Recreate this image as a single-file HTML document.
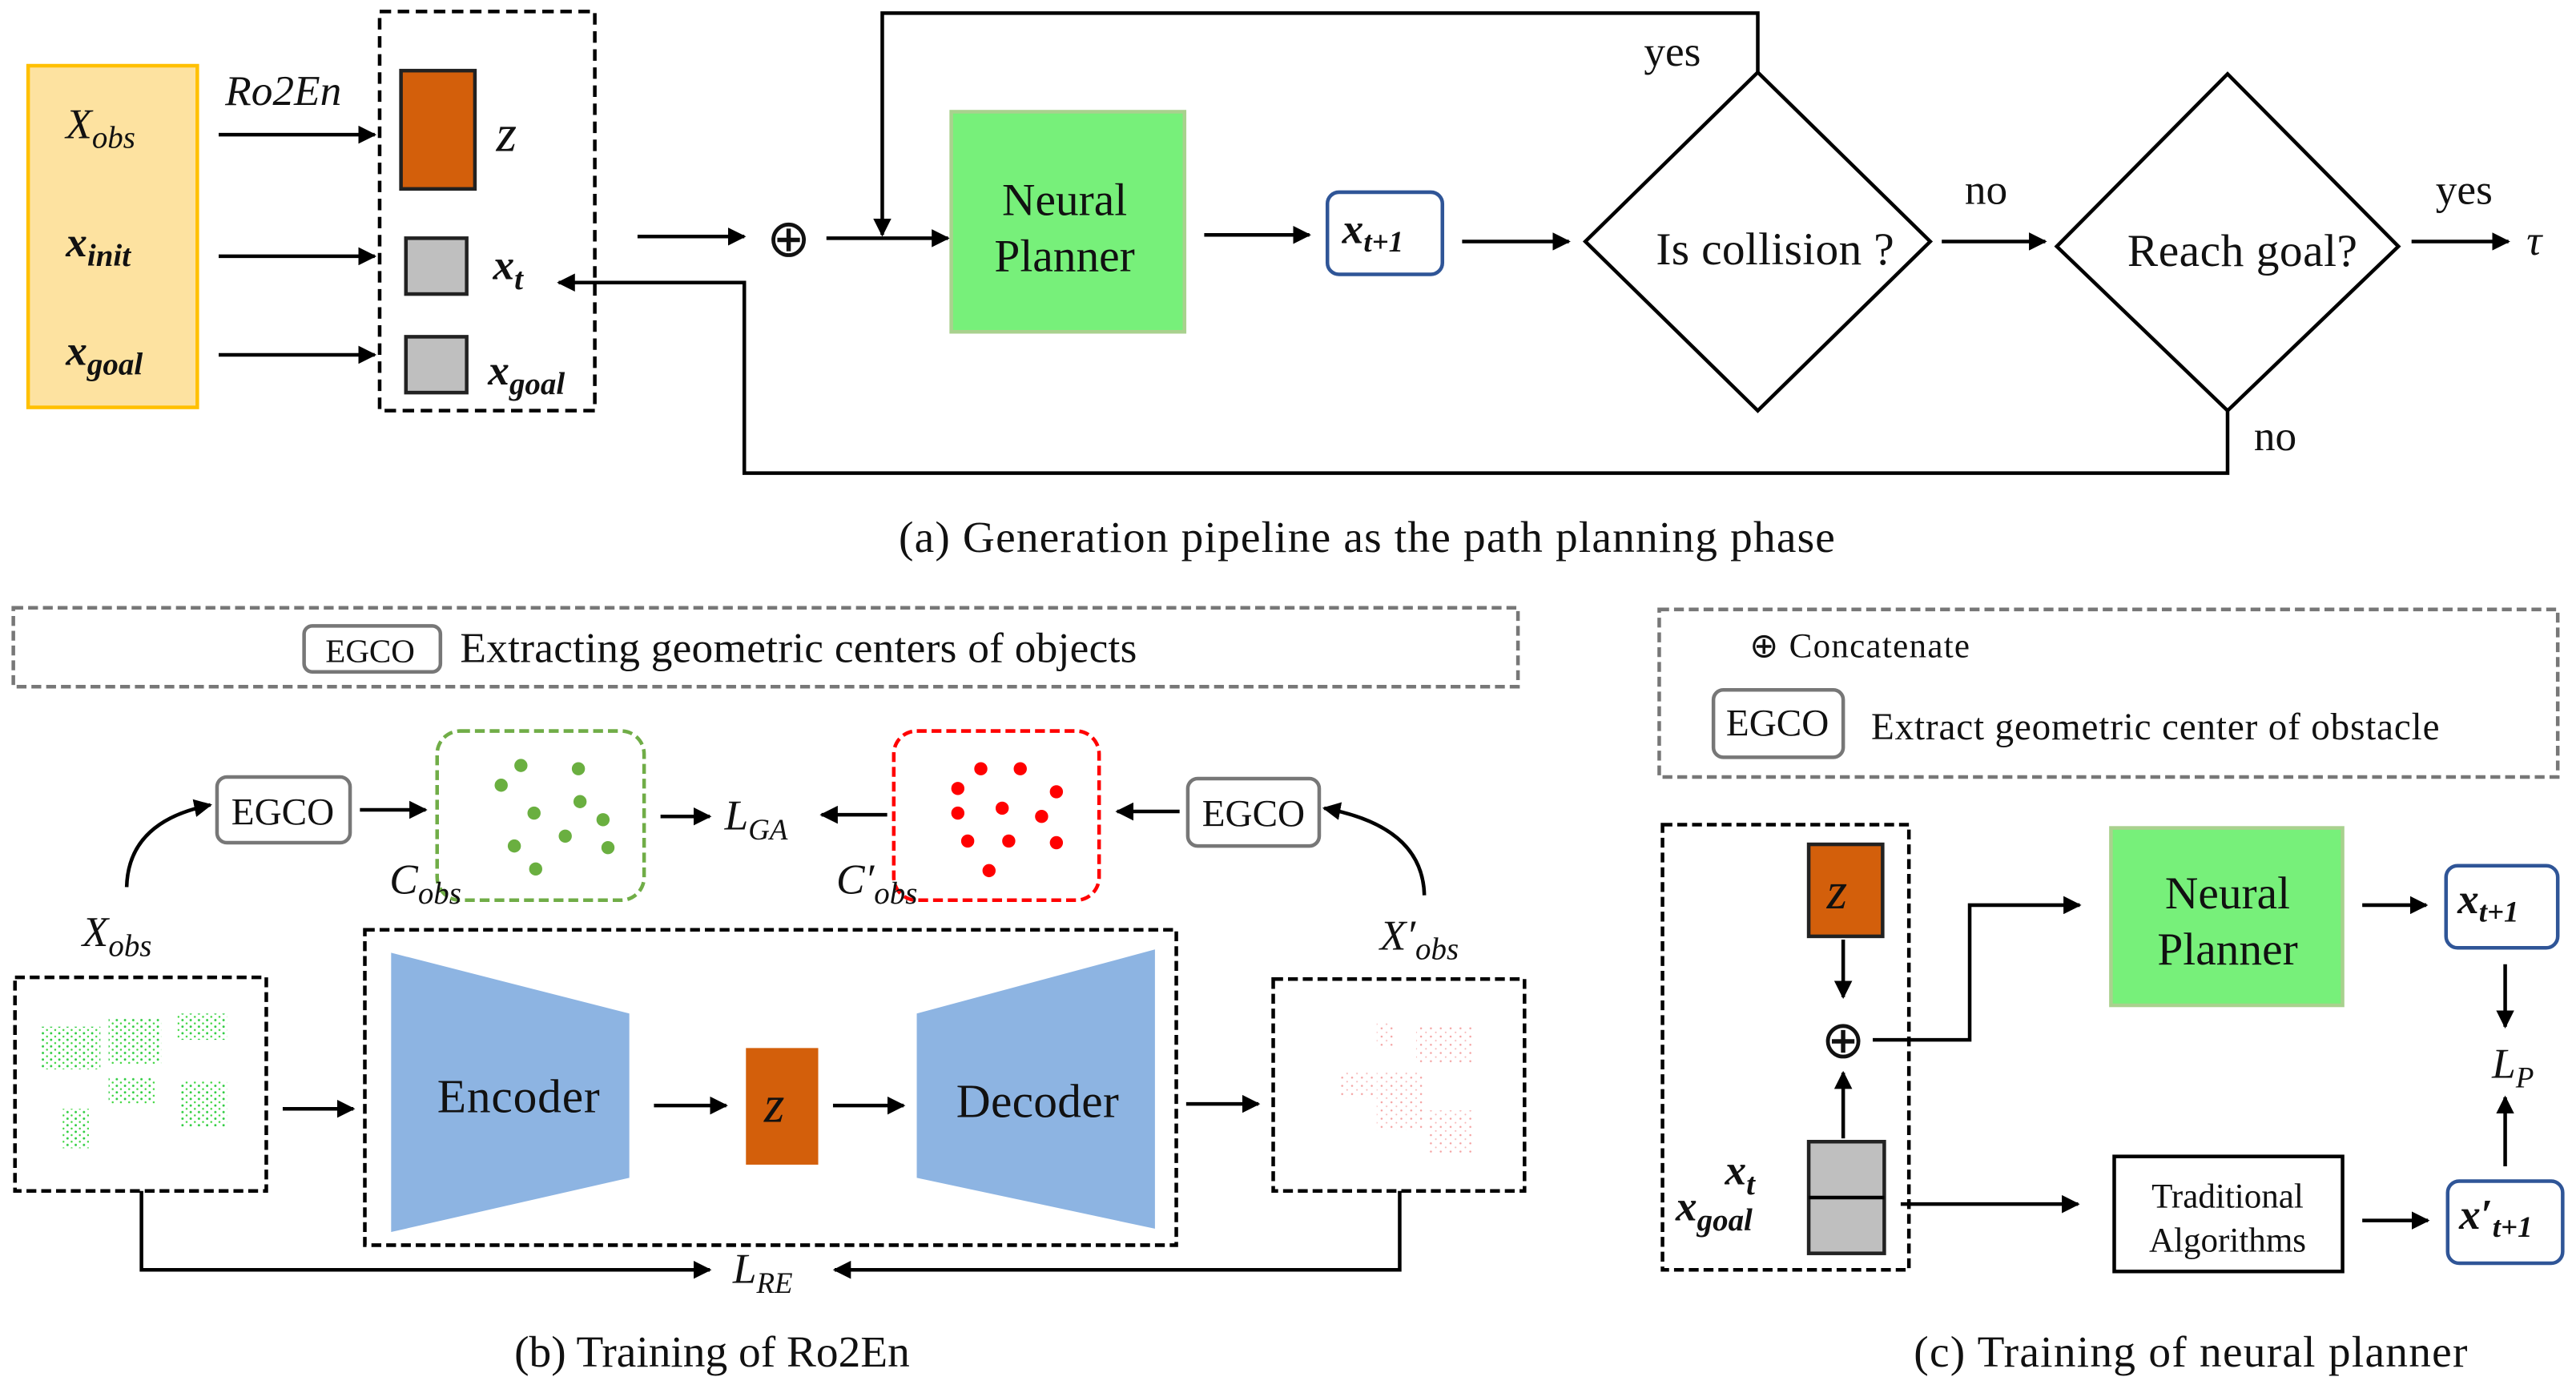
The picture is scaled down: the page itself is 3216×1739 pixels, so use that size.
<!DOCTYPE html>
<html><head><meta charset="utf-8"><style>
html,body{margin:0;padding:0;background:#fff;}
svg{display:block;}
text{font-family:"Liberation Serif",serif;fill:#111;}
.it{font-style:italic;}
.bi{font-style:italic;font-weight:bold;}
</style></head><body>
<svg width="3216" height="1739" viewBox="0 0 1568 848" xmlns="http://www.w3.org/2000/svg">
<defs>
<marker id="ah" viewBox="0 0 10 10" refX="9" refY="5" markerWidth="5" markerHeight="5" orient="auto-start-reverse"><path d="M0,0 L10,5 L0,10 z" fill="#000"/></marker>
<pattern id="gd" width="5" height="4" patternUnits="userSpaceOnUse"><circle cx="1" cy="1" r="0.7" fill="#2ecc40"/><circle cx="3.5" cy="3" r="0.6" fill="#3bd63b"/></pattern>
<pattern id="rd" width="6" height="5" patternUnits="userSpaceOnUse"><circle cx="1" cy="1" r="0.6" fill="#f4a0a0"/><circle cx="4" cy="3.5" r="0.5" fill="#f7b5b5"/></pattern>
</defs>
<g stroke="#000" stroke-width="2.2" fill="none">
<rect x="17" y="40" width="103" height="208" fill="#FDE2A0" stroke="#FFC000"/>
<line x1="133" y1="82" x2="228" y2="82" marker-end="url(#ah)"/>
<line x1="133" y1="156" x2="228" y2="156" marker-end="url(#ah)"/>
<line x1="133" y1="216" x2="228" y2="216" marker-end="url(#ah)"/>
<rect x="231" y="7" width="131" height="243" stroke-dasharray="7,4"/>
<rect x="244" y="43" width="45" height="72" fill="#D35F0B" stroke="#222"/>
<rect x="247" y="145" width="37" height="34" fill="#BFBFBF" stroke="#222"/>
<rect x="247" y="205" width="37" height="34" fill="#BFBFBF" stroke="#222"/>
<line x1="388" y1="144" x2="453" y2="144" marker-end="url(#ah)"/>
<line x1="503" y1="145" x2="577" y2="145" marker-end="url(#ah)"/>
<polyline points="1070,45 1070,8 537,8 537,143" marker-end="url(#ah)"/>
<rect x="579" y="68" width="142" height="134" fill="#77F07A" stroke="#A9D18E"/>
<line x1="733" y1="143" x2="797" y2="143" marker-end="url(#ah)"/>
<rect x="808" y="117" width="70" height="50" rx="7" stroke="#2F5597"/>
<line x1="890" y1="147" x2="955" y2="147" marker-end="url(#ah)"/>
<polygon points="965,147 1070,44 1175,147 1070,250"/>
<line x1="1182" y1="147" x2="1245" y2="147" marker-end="url(#ah)"/>
<polygon points="1252,150 1356,45 1460,150 1356,250"/>
<line x1="1468" y1="147" x2="1527" y2="147" marker-end="url(#ah)"/>
<polyline points="1356,250 1356,288 453,288 453,172 340,172" marker-end="url(#ah)"/>
<rect x="8" y="370" width="916" height="48" stroke="#777" stroke-dasharray="6,3"/>
<rect x="185" y="381" width="83" height="28" rx="5" stroke="#777"/>
<rect x="132" y="473" width="81" height="40" rx="6" stroke="#777"/>
<line x1="219" y1="493" x2="259" y2="493" marker-end="url(#ah)"/>
<path d="M77,540 Q78,500 128,490" marker-end="url(#ah)"/>
<rect x="266" y="445" width="126" height="103" rx="14" stroke="#70AD47" stroke-dasharray="6,3"/>
<line x1="402" y1="497" x2="432" y2="497" marker-end="url(#ah)"/>
<line x1="540" y1="496" x2="500" y2="496" marker-end="url(#ah)"/>
<rect x="544" y="445" width="125" height="103" rx="14" stroke="#FF0000" stroke-dasharray="6,3"/>
<line x1="718" y1="494" x2="680" y2="494" marker-end="url(#ah)"/>
<rect x="723" y="474" width="80" height="41" rx="6" stroke="#777"/>
<path d="M867,545 Q866,503 806,492" marker-end="url(#ah)"/>
<rect x="9" y="595" width="153" height="130" stroke-dasharray="6,3"/>
<line x1="172" y1="675" x2="215" y2="675" marker-end="url(#ah)"/>
<rect x="222" y="566" width="494" height="192" stroke-dasharray="6,3"/>
<polygon points="238,580 383,617 383,717 238,750" fill="#8DB4E2" stroke="none"/>
<line x1="398" y1="673" x2="442" y2="673" marker-end="url(#ah)"/>
<rect x="454" y="638" width="44" height="71" fill="#D35F0B" stroke="none"/>
<line x1="507" y1="673" x2="550" y2="673" marker-end="url(#ah)"/>
<polygon points="558,617 703,578 703,748 558,717" fill="#8DB4E2" stroke="none"/>
<line x1="722" y1="672" x2="766" y2="672" marker-end="url(#ah)"/>
<rect x="775" y="596" width="153" height="129" stroke-dasharray="6,3"/>
<polyline points="86,725 86,773 432,773" marker-end="url(#ah)"/>
<polyline points="852,725 852,773 508,773" marker-end="url(#ah)"/>
<rect x="1010" y="371" width="547" height="102" stroke="#777" stroke-dasharray="6,3"/>
<rect x="1043" y="420" width="79" height="41" rx="6" stroke="#777"/>
<rect x="1012" y="502" width="150" height="271" stroke-dasharray="6,3"/>
<rect x="1101" y="514" width="45" height="56" fill="#D35F0B" stroke="#222"/>
<line x1="1122" y1="572" x2="1122" y2="607" marker-end="url(#ah)"/>
<line x1="1122" y1="693" x2="1122" y2="653" marker-end="url(#ah)"/>
<rect x="1101" y="695" width="46" height="68" fill="#BFBFBF" stroke="#222"/>
<line x1="1101" y1="729" x2="1147" y2="729"/>
<polyline points="1140,633 1199,633 1199,551 1266,551" marker-end="url(#ah)"/>
<rect x="1285" y="504" width="141" height="108" fill="#77F07A" stroke="#A9D18E"/>
<line x1="1438" y1="551" x2="1477" y2="551" marker-end="url(#ah)"/>
<rect x="1489" y="527" width="68" height="50" rx="7" stroke="#2F5597"/>
<line x1="1525" y1="587" x2="1525" y2="625" marker-end="url(#ah)"/>
<line x1="1525" y1="710" x2="1525" y2="668" marker-end="url(#ah)"/>
<rect x="1490" y="719" width="70" height="50" rx="7" stroke="#2F5597"/>
<line x1="1157" y1="733" x2="1265" y2="733" marker-end="url(#ah)"/>
<rect x="1287" y="704" width="139" height="70"/>
<line x1="1438" y1="743" x2="1478" y2="743" marker-end="url(#ah)"/>
</g>
<g>
<rect x="25" y="625" width="36" height="26" fill="url(#gd)"/>
<rect x="66" y="620" width="32" height="28" fill="url(#gd)"/>
<rect x="108" y="617" width="30" height="16" fill="url(#gd)"/>
<rect x="66" y="656" width="28" height="16" fill="url(#gd)"/>
<rect x="110" y="658" width="28" height="28" fill="url(#gd)"/>
<rect x="38" y="675" width="16" height="24" fill="url(#gd)"/>
<rect x="838" y="622" width="10" height="16" fill="url(#rd)"/>
<rect x="862" y="625" width="34" height="22" fill="url(#rd)"/>
<rect x="815" y="652" width="22" height="16" fill="url(#rd)"/>
<rect x="838" y="652" width="28" height="36" fill="url(#rd)"/>
<rect x="870" y="676" width="26" height="26" fill="url(#rd)"/>
</g>
<g fill="#6AAF40">
<circle cx="317" cy="466" r="4"/><circle cx="352" cy="468" r="4"/><circle cx="305" cy="478" r="4"/>
<circle cx="353" cy="488" r="4"/><circle cx="325" cy="495" r="4"/><circle cx="367" cy="499" r="4"/>
<circle cx="344" cy="509" r="4"/><circle cx="313" cy="515" r="4"/><circle cx="370" cy="516" r="4"/><circle cx="326" cy="529" r="4"/>
</g>
<g fill="#FF0000">
<circle cx="597" cy="468" r="4"/><circle cx="621" cy="468" r="4"/><circle cx="583" cy="480" r="4"/>
<circle cx="643" cy="482" r="4"/><circle cx="610" cy="492" r="4"/><circle cx="583" cy="495" r="4"/>
<circle cx="634" cy="497" r="4"/><circle cx="589" cy="512" r="4"/><circle cx="614" cy="512" r="4"/><circle cx="643" cy="513" r="4"/><circle cx="602" cy="530" r="4"/>
</g>
<g font-size="26">
<text x="40" y="84" class="it">X<tspan font-size="19" dy="6">obs</tspan></text>
<text x="40" y="156" class="bi">x<tspan font-size="19" dy="6">init</tspan></text>
<text x="40" y="222" class="bi">x<tspan font-size="19" dy="6">goal</tspan></text>
<text x="137" y="64" class="it">Ro2En</text>
<text x="302" y="92" class="it" font-size="32">z</text>
<text x="300" y="170" class="bi">x<tspan font-size="19" dy="6">t</tspan></text>
<text x="297" y="234" class="bi">x<tspan font-size="19" dy="6">goal</tspan></text>
<text x="480" y="156" text-anchor="middle" font-size="32">⊕</text>
<text x="648" y="131" text-anchor="middle" font-size="28">Neural</text>
<text x="648" y="165" text-anchor="middle" font-size="28">Planner</text>
<text x="817" y="148" class="bi">x<tspan font-size="18" dy="5">t+1</tspan></text>
<text x="1008" y="161" font-size="28" textLength="145">Is collision ?</text>
<text x="1018" y="40" text-anchor="middle">yes</text>
<text x="1209" y="124" text-anchor="middle">no</text>
<text x="1295" y="162" font-size="28" textLength="140">Reach goal?</text>
<text x="1500" y="124" text-anchor="middle">yes</text>
<text x="1538" y="155" class="it">τ</text>
<text x="1385" y="274" text-anchor="middle">no</text>
<text x="547" y="336" font-size="27" textLength="570">(a) Generation pipeline as the path planning phase</text>
<text x="198" y="403" font-size="20">EGCO</text>
<text x="280" y="403" font-size="26" textLength="412">Extracting geometric centers of objects</text>
<text x="172" y="502" text-anchor="middle" font-size="23">EGCO</text>
<text x="763" y="503" text-anchor="middle" font-size="23">EGCO</text>
<text x="441" y="505" class="it">L<tspan font-size="18" dy="6">GA</tspan></text>
<text x="237" y="544" class="it">C<tspan font-size="19" dy="6">obs</tspan></text>
<text x="509" y="544" class="it">C′<tspan font-size="19" dy="6">obs</tspan></text>
<text x="50" y="576" class="it">X<tspan font-size="19" dy="6">obs</tspan></text>
<text x="840" y="578" class="it">X′<tspan font-size="19" dy="6">obs</tspan></text>
<text x="266" y="677" font-size="29" fill="#333" textLength="99">Encoder</text>
<text x="582" y="680" font-size="29" fill="#333" textLength="99">Decoder</text>
<text x="465" y="683" class="it" font-size="32">z</text>
<text x="446" y="781" class="it">L<tspan font-size="18" dy="6">RE</tspan></text>
<text x="313" y="832" font-size="27">(b) Training of Ro2En</text>
<text x="1065" y="400" font-size="21" textLength="134">⊕ Concatenate</text>
<text x="1082" y="448" text-anchor="middle" font-size="23">EGCO</text>
<text x="1139" y="450" font-size="23" textLength="346">Extract geometric center of obstacle</text>
<text x="1112" y="553" class="it" font-size="32">z</text>
<text x="1122" y="644" text-anchor="middle" font-size="32">⊕</text>
<text x="1050" y="721" class="bi">x<tspan font-size="19" dy="6">t</tspan></text>
<text x="1020" y="743" class="bi">x<tspan font-size="19" dy="6">goal</tspan></text>
<text x="1356" y="553" text-anchor="middle" font-size="28">Neural</text>
<text x="1356" y="587" text-anchor="middle" font-size="28">Planner</text>
<text x="1496" y="556" class="bi">x<tspan font-size="18" dy="5">t+1</tspan></text>
<text x="1517" y="656" class="it">L<tspan font-size="18" dy="6">P</tspan></text>
<text x="1497" y="748" class="bi">x′<tspan font-size="18" dy="5">t+1</tspan></text>
<text x="1356" y="735" text-anchor="middle" font-size="21">Traditional</text>
<text x="1356" y="762" text-anchor="middle" font-size="21">Algorithms</text>
<text x="1165" y="832" font-size="27" textLength="337">(c) Training of neural planner</text>
</g>
</svg>
</body></html>
